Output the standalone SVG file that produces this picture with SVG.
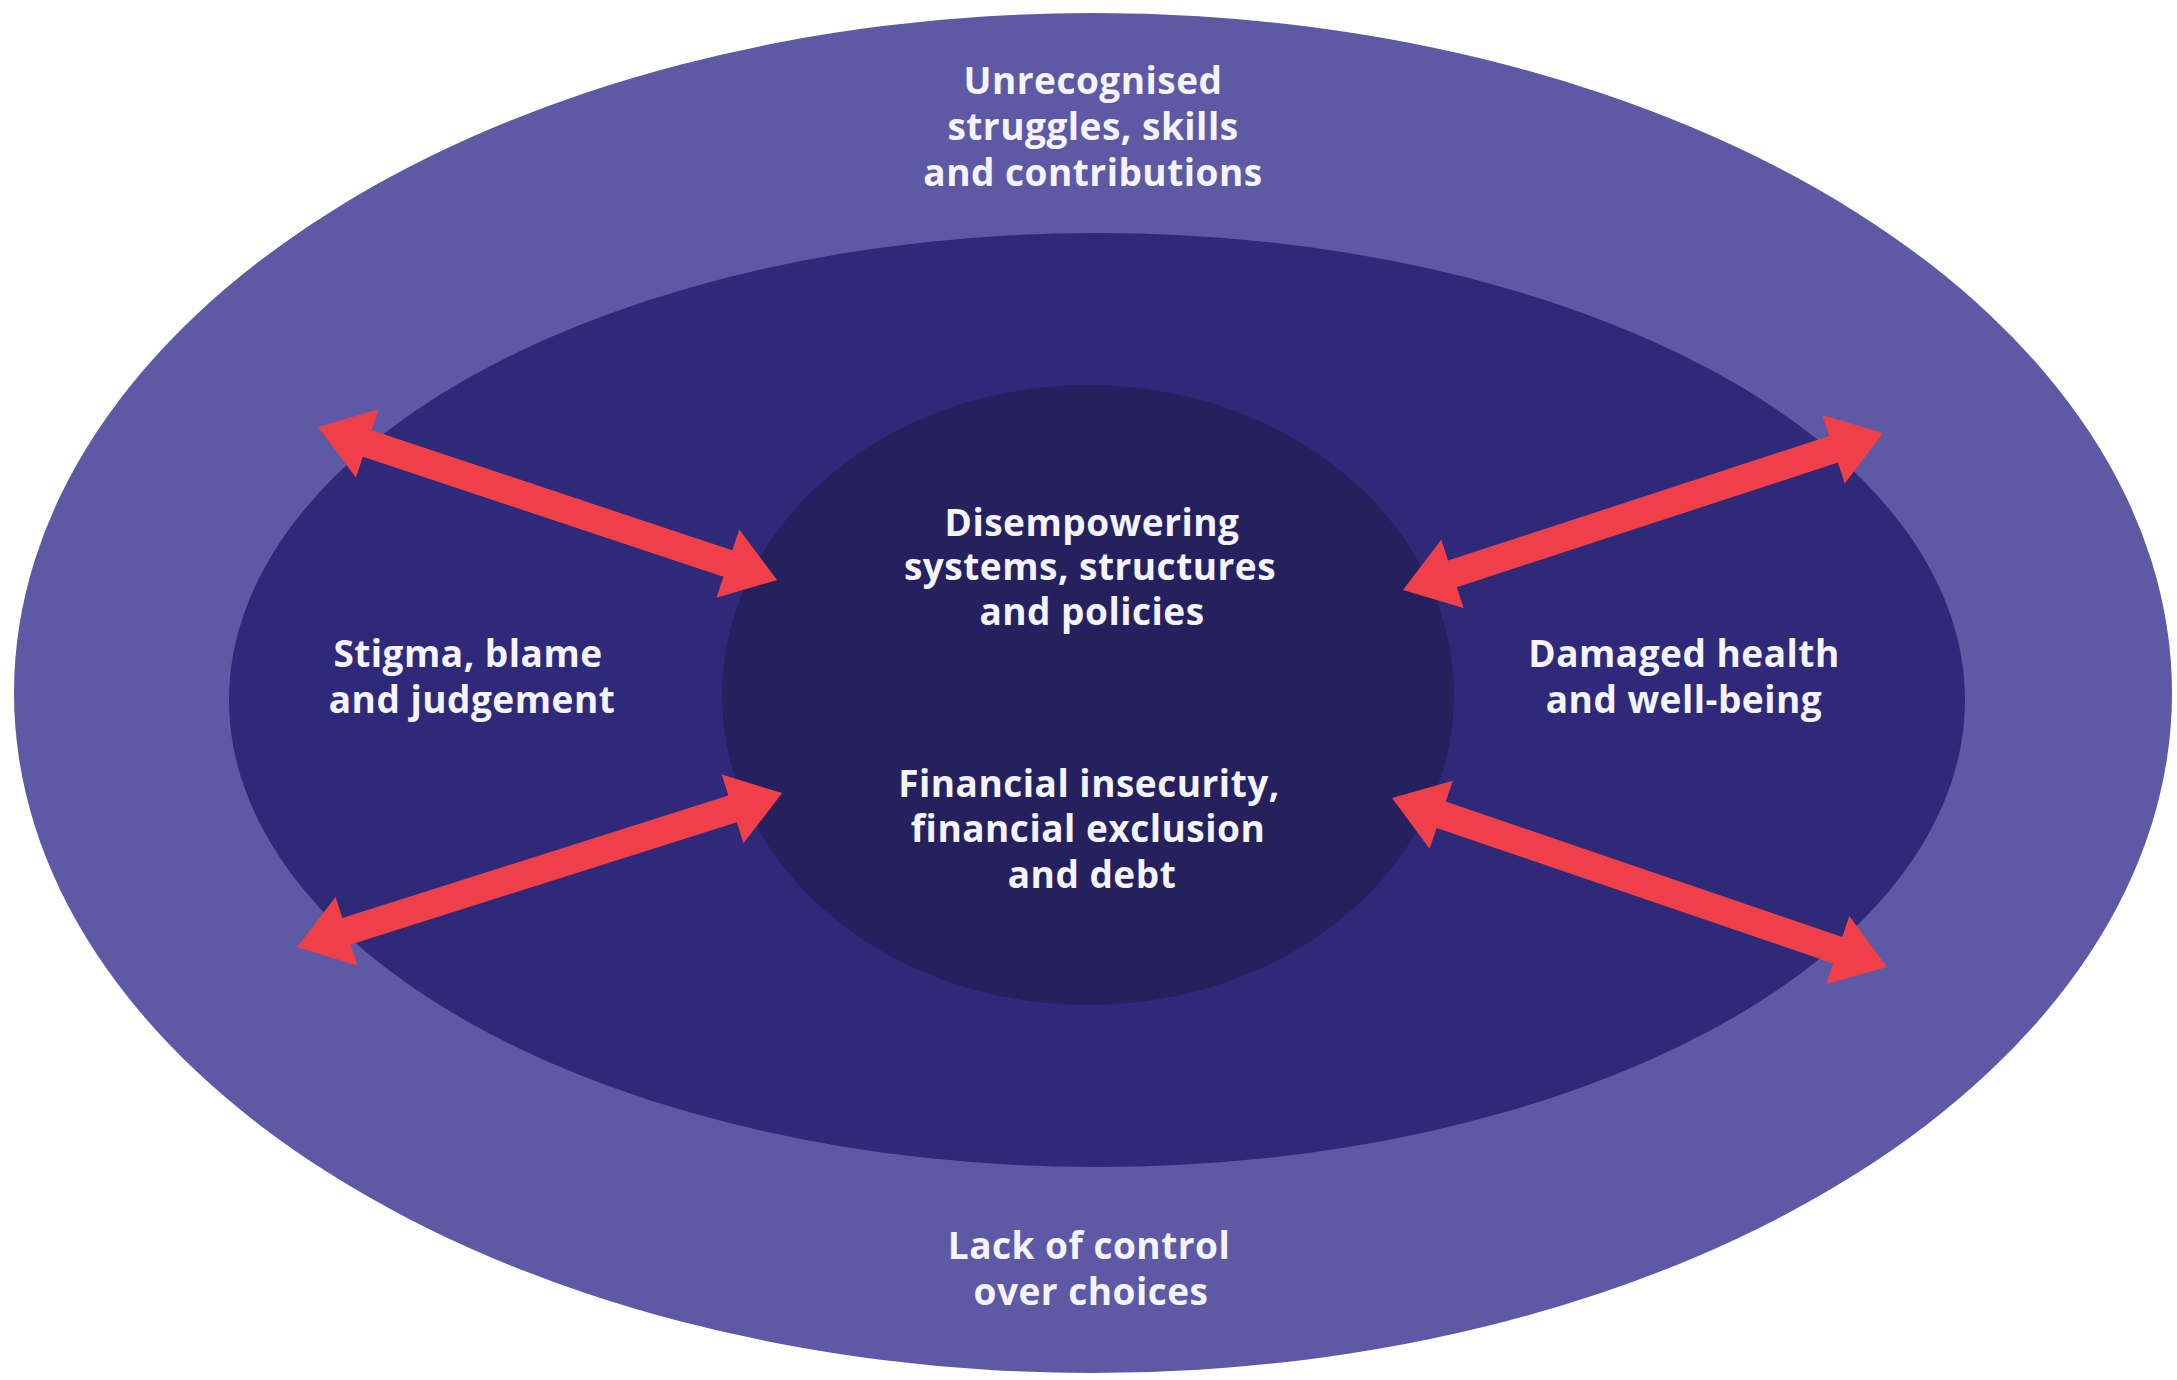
<svg xmlns="http://www.w3.org/2000/svg" width="2177" height="1380" viewBox="0 0 2177 1380">
<style>
.lbl{font-family:"Open Sans","Noto Sans","Liberation Sans",sans-serif;font-weight:700;font-size:37px;fill:#f5f3fc;text-anchor:middle;letter-spacing:0.5px}
.arr{fill:#ef404a}
</style>
<rect width="2177" height="1380" fill="#ffffff"/>
<g id="outer"><ellipse cx="1093" cy="693" rx="1079" ry="680" fill="#5d59a4"/>
<text class="lbl" x="1093" y="94">Unrecognised</text>
<text class="lbl" x="1093" y="140">struggles, skills</text>
<text class="lbl" x="1093" y="186">and contributions</text>
<text class="lbl" x="1089" y="1259">Lack of control</text>
<text class="lbl" x="1091" y="1305">over choices</text>
</g>
<g id="middle"><ellipse cx="1097" cy="700" rx="868" ry="467" fill="#2e2a79"/>
<text class="lbl" x="468" y="667">Stigma, blame</text>
<text class="lbl" x="472" y="713">and judgement</text>
<text class="lbl" x="1684" y="667">Damaged health</text>
<text class="lbl" x="1684" y="713">and well-being</text>
</g>
<g id="inner"><ellipse cx="1088" cy="695" rx="366" ry="310" fill="#25215f"/>
<text class="lbl" x="1092" y="536">Disempowering</text>
<text class="lbl" x="1090" y="580">systems, structures</text>
<text class="lbl" x="1092" y="625">and policies</text>
<text class="lbl" x="1089" y="797">Financial insecurity,</text>
<text class="lbl" x="1088" y="842">financial exclusion</text>
<text class="lbl" x="1092" y="888">and debt</text>
</g>
<g id="connectors">
<g transform="translate(318,427) rotate(18.43)"><path class="arr" d="M0,0 L52,-36 L52,-14 L432,-14 L432,-36 L484,0 L432,36 L432,14 L52,14 L52,36 Z"/></g>
<g transform="translate(297,947) rotate(-17.6)"><path class="arr" d="M0,0 L52,-36 L52,-14 L457,-14 L457,-36 L509,0 L457,36 L457,14 L52,14 L52,36 Z"/></g>
<g transform="translate(1403,590) rotate(-18.1)"><path class="arr" d="M0,0 L52,-36 L52,-14 L453,-14 L453,-36 L505,0 L453,36 L453,14 L52,14 L52,36 Z"/></g>
<g transform="translate(1392,798) rotate(18.85)"><path class="arr" d="M0,0 L52,-36 L52,-14 L471,-14 L471,-36 L523,0 L471,36 L471,14 L52,14 L52,36 Z"/></g>
</g>
</svg>
